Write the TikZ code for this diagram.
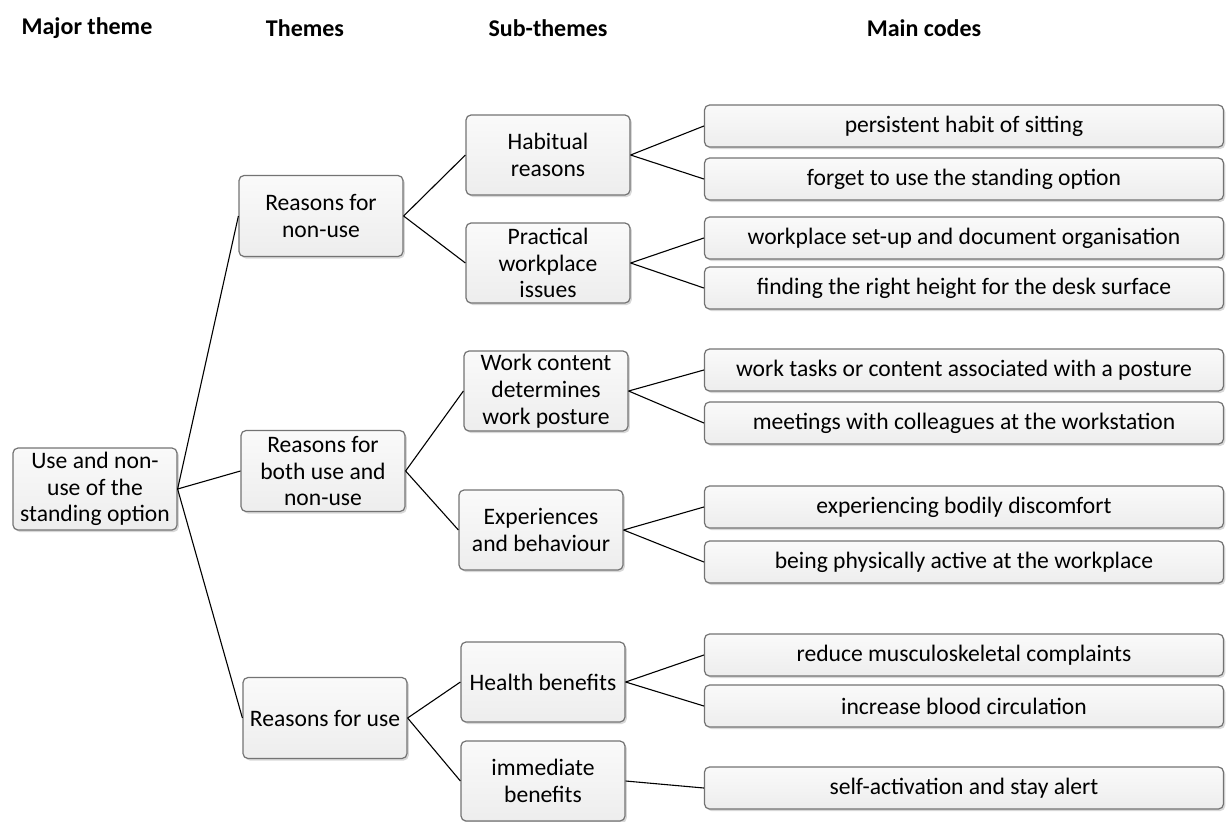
\documentclass[tikz,border=0pt]{standalone}
\usepackage{fontspec}
\setmainfont{Carlito}
\usetikzlibrary{shadows}

\begin{document}
\begin{tikzpicture}[x=0.5pt, y=-0.5pt,
    box/.style={draw=black!55, line width=0.6pt, rounded corners=2.5pt,
      top color=gray!4, bottom color=gray!14, align=center, inner sep=1pt,
      font=\fontsize{11.8}{13.4}\selectfont,
      drop shadow={shadow xshift=0.9pt, shadow yshift=-1pt, fill=black!30}},
    majorbox/.style={box, minimum width=82pt, minimum height=41pt},
    themebox/.style={box, minimum width=82pt, minimum height=40.5pt},
    subbox/.style={box, minimum width=82pt, minimum height=40pt},
    codebox/.style={box, minimum width=259.5pt, minimum height=21pt},
    head/.style={font=\fontsize{12}{14}\selectfont\bfseries},
    link/.style={black, line width=0.55pt}]
  \useasboundingbox (0,0) rectangle (1228,821);

  % column headings
  \node[head] (hmajor) at (87,28) {Major theme};
  \node[head] (htheme) at (305,28) {Themes};
  \node[head] (hsub) at (548,28) {Sub-themes};
  \node[head] (hcode) at (924,28) {Main codes};

  % major theme
  \node[majorbox] (major) at (95,489) {Use and non-\\use of the\\standing option};

  % themes
  \node[themebox] (nonuse) at (321,216) {Reasons for\\non-use};
  \node[themebox] (both) at (323,471) {Reasons for\\both use and\\non-use};
  \node[themebox] (use) at (325,718) {Reasons for use};

  % sub-themes
  \node[subbox] (habit) at (548,155) {Habitual\\reasons};
  \node[subbox] (practical) at (548,263) {Practical\\workplace\\issues};
  \node[subbox] (content) at (546,391) {Work content\\determines\\work posture};
  \node[subbox] (experience) at (541,530) {Experiences\\and behaviour};
  \node[subbox] (health) at (543,682) {Health benefits};
  \node[subbox] (immediate) at (543,781) {immediate\\benefits};

  % main codes
  \node[codebox] (sitting) at (964,126) {persistent habit of sitting};
  \node[codebox] (forget) at (964,179) {forget to use the standing option};
  \node[codebox] (setup) at (964,238) {workplace set-up and document organisation};
  \node[codebox] (height) at (964,288) {finding the right height for the desk surface};
  \node[codebox] (tasks) at (964,370) {work tasks or content associated with a posture};
  \node[codebox] (meetings) at (964,423) {meetings with colleagues at the workstation};
  \node[codebox] (discomfort) at (964,507) {experiencing bodily discomfort};
  \node[codebox] (active) at (964,562) {being physically active at the workplace};
  \node[codebox] (complaints) at (964,655) {reduce musculoskeletal complaints};
  \node[codebox] (blood) at (964,706) {increase blood circulation};
  \node[codebox] (alert) at (964,788) {self-activation and stay alert};

  % connectors
  \foreach \a/\b in {major/nonuse, major/both, major/use,
      nonuse/habit, nonuse/practical, both/content, both/experience,
      use/health, use/immediate,
      habit/sitting, habit/forget, practical/setup, practical/height,
      content/tasks, content/meetings, experience/discomfort, experience/active,
      health/complaints, health/blood, immediate/alert}
    \draw[link] (\a.east) -- (\b.west);
\end{tikzpicture}
\end{document}
